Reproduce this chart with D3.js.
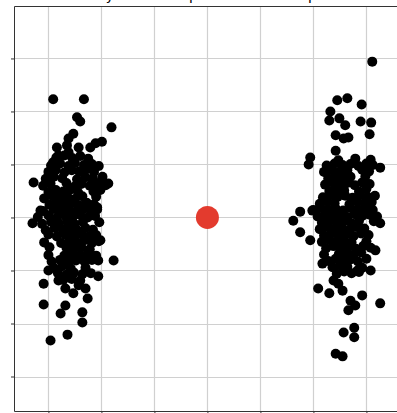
<!DOCTYPE html>
<html>
<head>
<meta charset="utf-8">
<script src="https://cdn.jsdelivr.net/npm/d3@7"></script>
<style>
  html, body { margin: 0; padding: 0; background: #fff; }
  svg { display: block; }
</style>
</head>
<body>
<svg id="chart" width="397" height="413"></svg>
<script>
// ---- data (x, y) ----
const titleText = "Every cluster's split about its midpoint";
const xTicks = [-3, -2, -1, 0, 1, 2, 3];
const yTicks = [-3, -2, -1, 0, 1, 2, 3];
const centerPoint = [[0, 0]];

const leftOutliers = [
  [-2.91,2.23],[-2.33,2.23],[-2.46,1.89],[-2.40,1.81],[-1.81,1.70],[-2.53,1.58],[-2.62,1.49],
  [-1.99,1.43],[-2.84,1.32],[-2.65,1.36],[-2.43,1.32],[-2.21,1.32],[-2.11,1.40],[-2.81,1.17],
  [-2.62,1.23],[-2.91,1.04],[-3.28,0.66],[-3.30,-0.11],[-3.15,0.13],[-1.77,-0.81],[-1.87,0.64],
  [-2.02,0.64],[-2.08,0.19],[-2.02,-0.43],[-2.06,-1.11],[-3.09,-1.25],[-3.09,-1.64],[-2.77,-1.81],
  [-2.68,-1.66],[-2.36,-1.79],[-2.36,-1.98],[-2.64,-2.21],[-2.96,-2.32],[-2.26,-1.53],[-2.53,-1.43],
  [-2.43,-1.28],[-2.81,-1.19],[-2.68,-1.34],[-2.30,-1.34],[-2.06,-0.81],[-3.00,-1.00]
];
const leftCore = [
  [-2.85,1.13],[-2.70,1.17],[-2.55,1.12],[-2.40,1.16],[-2.25,1.11],
  [-2.95,0.98],[-2.78,1.02],[-2.62,0.97],[-2.50,1.03],[-2.33,0.99],[-2.18,1.01],[-2.05,0.97],
  [-3.00,0.86],[-2.86,0.90],[-2.70,0.85],[-2.56,0.89],[-2.42,0.87],[-2.28,0.91],[-2.14,0.86],
  [-3.05,0.73],[-2.90,0.77],[-2.74,0.74],[-2.46,0.72],[-2.30,0.76],[-2.16,0.74],[-1.98,0.77],
  [-3.10,0.60],[-2.96,0.64],[-2.66,0.65],[-2.50,0.59],[-2.38,0.63],[-2.22,0.60],[-2.08,0.64],[-1.92,0.61],
  [-3.00,0.48],[-2.86,0.52],[-2.72,0.49],[-2.58,0.53],[-2.44,0.47],[-2.15,0.49],[-2.02,0.52],
  [-3.08,0.36],[-2.92,0.40],[-2.78,0.37],[-2.64,0.39],[-2.50,0.35],[-2.36,0.40],[-2.10,0.39],
  [-2.98,0.24],[-2.85,0.28],[-2.70,0.25],[-2.55,0.27],[-2.42,0.23],[-2.28,0.28],[-2.14,0.25],
  [-3.10,0.12],[-2.90,0.16],[-2.76,0.13],[-2.62,0.15],[-2.48,0.11],[-2.34,0.16],[-2.20,0.13],[-2.08,0.15],
  [-3.20,0.01],[-3.00,0.04],[-2.84,0.00],[-2.68,0.03],[-2.54,0.01],[-2.40,0.05],[-2.26,0.00],[-2.12,0.03],
  [-3.12,-0.12],[-2.95,-0.08],[-2.80,-0.11],[-2.64,-0.09],[-2.50,-0.13],[-2.35,-0.08],[-2.04,-0.09],
  [-3.05,-0.24],[-2.88,-0.20],[-2.73,-0.23],[-2.58,-0.21],[-2.44,-0.25],[-2.30,-0.20],[-2.16,-0.23],
  [-3.00,-0.32],[-2.84,-0.36],[-2.68,-0.33],[-2.52,-0.35],[-2.38,-0.31],[-2.24,-0.36],[-2.10,-0.33],
  [-3.08,-0.47],[-2.76,-0.48],[-2.60,-0.45],[-2.46,-0.47],[-2.32,-0.43],[-2.18,-0.48],[-2.05,-0.45],
  [-2.98,-0.56],[-2.66,-0.57],[-2.52,-0.59],[-2.38,-0.56],[-2.22,-0.60],
  [-3.00,-0.71],[-2.70,-0.72],[-2.56,-0.69],[-2.40,-0.71],[-2.26,-0.68],[-2.10,-0.72],
  [-2.94,-0.83],[-2.78,-0.80],[-2.62,-0.84],[-2.48,-0.81],[-2.32,-0.83],[-2.18,-0.80],
  [-2.90,-0.95],[-2.74,-0.92],[-2.58,-0.96],[-2.30,-0.95],
  [-2.82,-1.05],[-2.66,-1.08],[-2.52,-1.04],[-2.36,-1.07],[-2.20,-1.05],
  [-2.72,-1.18],[-2.56,-1.16],[-2.40,-1.19]
];
const rightOutliers = [
  [3.11,2.94],[2.45,2.21],[2.64,2.25],[2.91,2.13],[2.32,2.00],[2.30,1.83],[2.49,1.87],[2.60,1.74],
  [2.89,1.81],[3.09,1.79],[2.42,1.55],[2.57,1.49],[2.66,1.51],[3.06,1.57],[2.42,1.26],[1.94,1.13],
  [1.91,1.00],[2.47,1.08],[2.79,1.11],[3.08,1.09],[3.26,0.94],[2.23,0.87],[3.08,0.28],[1.62,-0.06],
  [1.75,0.11],[1.98,0.13],[1.75,-0.28],[1.94,-0.43],[3.26,-0.11],[3.17,-0.62],[2.17,-0.87],[2.09,-1.34],
  [2.30,-1.43],[2.55,-1.38],[2.70,-1.57],[2.66,-1.75],[2.92,-1.47],[3.26,-1.62],[2.79,-1.66],[2.57,-2.17],
  [2.77,-2.08],[2.77,-2.26],[2.42,-2.57],[2.55,-2.62],[2.38,-1.19],[2.47,-1.25],[2.83,-1.00],[3.08,-1.00]
];
const rightCore = [
  [2.25,0.98],[2.40,1.02],[2.55,0.99],[2.70,1.01],[2.85,0.97],[3.00,1.02],[3.12,0.99],
  [2.20,0.86],[2.35,0.90],[2.50,0.87],[2.64,0.89],[2.92,0.90],[3.05,0.87],
  [2.28,0.74],[2.42,0.78],[2.56,0.75],[2.70,0.77],[2.98,0.78],
  [2.22,0.62],[2.36,0.66],[2.50,0.63],[2.64,0.65],[2.78,0.61],[2.92,0.66],[3.06,0.63],
  [2.30,0.50],[2.44,0.54],[2.58,0.51],[2.86,0.49],[3.00,0.54],
  [2.18,0.38],[2.32,0.42],[2.46,0.39],[2.60,0.41],[2.74,0.37],[2.88,0.42],[3.02,0.39],[3.16,0.41],
  [2.12,0.26],[2.26,0.30],[2.40,0.27],[2.68,0.25],[2.82,0.30],[2.96,0.27],[3.10,0.29],
  [2.00,0.14],[2.14,0.18],[2.28,0.15],[2.42,0.17],[2.56,0.13],[2.70,0.18],[2.84,0.15],[2.98,0.17],[3.12,0.14],
  [2.08,0.02],[2.22,0.06],[2.36,0.03],[2.50,0.05],[2.64,0.01],[2.78,0.06],[2.92,0.03],[3.06,0.05],[3.20,0.02],
  [2.16,-0.10],[2.30,-0.06],[2.44,-0.09],[2.58,-0.07],[2.72,-0.11],[2.86,-0.06],[3.14,-0.07],
  [2.12,-0.22],[2.26,-0.18],[2.40,-0.21],[2.54,-0.19],[2.68,-0.23],[2.82,-0.18],[2.96,-0.21],
  [2.20,-0.34],[2.34,-0.30],[2.48,-0.33],[2.62,-0.31],[2.76,-0.35],[2.90,-0.30],[3.04,-0.33],
  [2.16,-0.46],[2.30,-0.42],[2.44,-0.45],[2.58,-0.43],[2.72,-0.47],[3.00,-0.45],
  [2.24,-0.58],[2.38,-0.54],[2.52,-0.57],[2.66,-0.55],[2.80,-0.59],[2.94,-0.54],[3.08,-0.57],
  [2.20,-0.70],[2.48,-0.69],[2.62,-0.67],[2.76,-0.71],[2.90,-0.66],
  [2.28,-0.82],[2.42,-0.78],[2.56,-0.81],[2.70,-0.79],[2.84,-0.83],[3.00,-0.78],
  [2.36,-0.94],[2.50,-0.90],[2.64,-0.93],[2.92,-0.95],
  [2.44,-1.06],[2.58,-1.02],[2.72,-1.05],[2.86,-1.03]
];

const points = [...leftCore, ...leftOutliers, ...rightCore, ...rightOutliers];

// ---- layout ----
const svg = d3.select("#chart");
const padL = 14.5, padT = 6.5, padB = 411.5;
const unit = 53;
const x = d3.scaleLinear().domain([-3.64, 3.9]).range([padL, padL + 7.54 * unit]);
const y = d3.scaleLinear().domain([-3.66, 3.98]).range([padB, padT]);

// title (mostly clipped above the view, only descenders show)
svg.append("text")
  .attr("x", 209).attr("y", 0.3)
  .attr("text-anchor", "middle")
  .attr("font-family", "DejaVu Sans")
  .attr("font-size", 14)
  .attr("fill", "#000")
  .text(titleText);

// grid
const grid = svg.append("g");
grid.selectAll("line.v").data(xTicks).join("line")
  .attr("x1", d => Math.round(x(d)) + 0.5).attr("x2", d => Math.round(x(d)) + 0.5)
  .attr("y1", padT).attr("y2", padB)
  .attr("stroke", "#d0d0d0").attr("stroke-width", 1.2);
grid.selectAll("line.h").data(yTicks).join("line")
  .attr("y1", d => Math.round(y(d)) + 0.5).attr("y2", d => Math.round(y(d)) + 0.5)
  .attr("x1", padL).attr("x2", 397)
  .attr("stroke", "#d0d0d0").attr("stroke-width", 1.2);

// axes
const yAxis = d3.axisLeft(y).tickValues(yTicks).tickSize(3.5).tickFormat("");
svg.append("g").attr("transform", `translate(${padL},0)`).call(yAxis)
  .call(g => g.select(".domain").remove())
  .selectAll("line").attr("stroke", "#333");
const xAxis = d3.axisBottom(x).tickValues(xTicks).tickSize(3.5).tickFormat("");
svg.append("g").attr("transform", `translate(0,${padB})`).call(xAxis)
  .call(g => g.select(".domain").remove())
  .selectAll("line").attr("stroke", "#333");

// frame
svg.append("line").attr("x1", padL).attr("x2", padL).attr("y1", padT).attr("y2", padB)
  .attr("stroke", "#333").attr("stroke-width", 1);
svg.append("line").attr("x1", padL).attr("x2", 397).attr("y1", padT).attr("y2", padT)
  .attr("stroke", "#333").attr("stroke-width", 1);
svg.append("line").attr("x1", padL).attr("x2", 397).attr("y1", padB).attr("y2", padB)
  .attr("stroke", "#333").attr("stroke-width", 1);

// points
svg.append("g").selectAll("circle").data(points).join("circle")
  .attr("cx", d => x(d[0])).attr("cy", d => y(d[1]))
  .attr("r", 5).attr("fill", "#000");

svg.append("g").selectAll("circle").data(centerPoint).join("circle")
  .attr("cx", d => x(d[0])).attr("cy", d => y(d[1]))
  .attr("r", 11.5).attr("fill", "#e33b2e");
</script>
</body>
</html>
